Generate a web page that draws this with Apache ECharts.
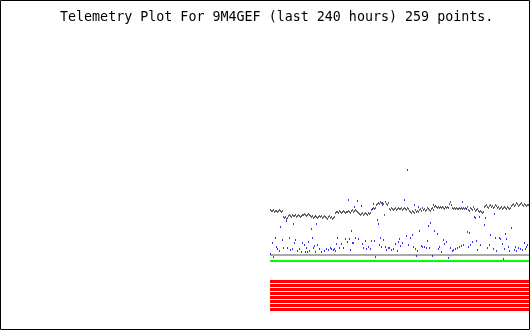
<!DOCTYPE html>
<html>
<head>
<meta charset="utf-8">
<script src="https://cdn.jsdelivr.net/npm/echarts@6/dist/echarts.min.js"></script>
<style>
html,body{margin:0;padding:0;background:#fff;}
#chart{width:530px;height:330px;}
</style>
</head>
<body>
<div id="chart"></div>
<script>
// Title text
const titleText = 'Telemetry Plot For 9M4GEF (last 240 hours) 259 points.';

// Sample index range (259 points)
const sampleCount = 259;

// Channel 1 (dark) raw values, one per sample
const channelBlack = [
  120,119,119,120,118,119,119,118,119,120,119,118,119,
  113,112,113,111,112,
  114,115,114,113,115,114,114,115,113,114,115,114,113,114,115,
  115,116,115,114,115,116,115,
  114,113,114,112,113,114,113,112,113,114,113,114,112,113,114,113,112,111,113,114,112,113,111,112,113,
  117,118,118,117,119,118,117,118,119,118,117,118,118,119,118,117,
  119,120,118,119,120,119,118,
  117,116,115,116,117,115,116,117,116,115,117,116,117,
  120,121,122,121,122,
  125,126,127,126,128,127,125,126,115,128,126,125,127,
  121,120,122,121,120,121,122,120,121,122,121,
  121,122,120,121,122,121,120,122,121,
  119,118,117,119,118,117,120,118,119,118,
  120,121,119,122,120,121,119,120,122,121,120,119,121,122,120,
  123,124,123,122,123,
  122,123,122,123,122,121,123,122,123,122,
  126,128,125,
  122,121,122,121,122,121,121,122,121,122,121,122,121,
  122,121,123,120,119,122,121,120,123,121,119,120,121,119,
  118,119,118,117,118,
  123,124,125,123,122,124,125,123,124,122,123,125,124,
  122,123,121,122,123,121,122,123,122,121,123,122,121,122,
  124,125,126,124,125,127,126,124,125,126,127,125,124,126,125,124,
  125,125
];

// Channel 2 (blue) visible samples: sample index and raw value
const blueSample = [
  0,2,3,5,6,7,9,10,12,13,16,17,19,20,22,23,24,25,27,29,31,32,34,35,36,37,38,39,
  41,42,43,44,45,46,47,49,51,54,56,58,60,61,63,64,65,66,67,69,71,73,75,77,78,79,
  80,81,82,83,84,85,87,88,91,92,93,95,96,98,100,101,102,103,104,105,107,108,109,
  110,111,112,113,115,116,118,119,121,123,125,127,128,129,130,132,134,136,137,138,
  140,142,143,144,145,146,147,148,149,151,152,154,156,157,158,159,160,162,163,164,
  167,168,169,171,173,174,176,178,180,182,183,185,187,189,191,192,193,196,197,198,
  199,200,202,204,205,206,207,209,210,214,215,217,219,220,223,224,225,226,229,230,
  232,233,234,235,236,238,239,241,244,245,246,248,250,252,254,255,256,257
];
const blueValue = [
  76,87,73,92,83,81,79,103,90,82,109,82,92,80,81,106,87,90,79,81,78,87,85,78,82,78,88,79,
  101,92,82,84,78,106,85,81,78,79,81,80,82,81,80,81,79,86,92,82,86,82,91,88,130,91,
  80,99,87,87,123,92,129,91,124,86,82,89,81,83,81,89,121,126,89,73,110,106,85,
  92,83,127,90,83,80,82,82,80,81,86,79,88,91,84,87,130,94,160,85,
  92,95,83,125,81,74,79,123,99,84,83,83,82,89,104,82,107,74,125,99,
  96,81,83,78,90,86,88,72,82,79,80,81,82,83,84,128,85,121,98,83,
  97,85,88,113,112,89,80,113,85,105,112,82,85,95,81,116,92,79,92,91,
  86,71,81,96,91,83,79,102,80,83,79,82,81,80,87,81,83,85
];

// Constant channels
const channelGray = 75;
const channelGreen = 69;
const channelRed = [48.5, 44.5, 40.5, 36.5, 32.5, 28.5, 24.5, 20.5];

const xMin = -0.5, xMax = sampleCount - 0.5;
const flat = v => [[xMin, v], [xMax, v]];

const chart = echarts.init(document.getElementById('chart'), null, {renderer: 'canvas'});

const series = [];
channelRed.forEach(v => series.push({
  type: 'line', data: flat(v), symbol: 'none', silent: true,
  lineStyle: {color: '#ff0000', width: 3}, z: 2
}));
series.push({type: 'line', data: flat(channelGreen), symbol: 'none', silent: true,
  lineStyle: {color: '#00ff00', width: 2}, z: 2});
series.push({type: 'line', data: flat(channelGray), symbol: 'none', silent: true,
  lineStyle: {color: '#aaaaaa', width: 2}, z: 2});
series.push({
  type: 'scatter', symbol: 'rect', symbolSize: [1, 2], silent: true,
  itemStyle: {color: '#383838'}, z: 3,
  data: channelBlack.map((v, i) => [i, v])
});
series.push({
  type: 'scatter', symbol: 'rect', symbolSize: [1, 2], silent: true,
  itemStyle: {color: '#0000ff'}, z: 4,
  data: blueSample.map((s, k) => [s, blueValue[k]])
});

chart.setOption({
  animation: false,
  backgroundColor: '#ffffff',
  grid: {left: 270, top: 0, width: 259, height: 330, containLabel: false},
  xAxis: {type: 'value', min: xMin, max: xMax, show: false},
  yAxis: {type: 'value', min: 0, max: 330, show: false},
  graphic: [
    {type: 'rect', shape: {x: 0.5, y: 0.5, width: 529, height: 329},
     style: {fill: 'none', stroke: '#000', lineWidth: 1}, z: 10},
    {type: 'text', x: 60, y: 11,
     style: {text: titleText, font: '13.33px "DejaVu Sans Mono"', fill: '#000', verticalAlign: 'top'}, z: 10}
  ],
  series: series
});
</script>
</body>
</html>
